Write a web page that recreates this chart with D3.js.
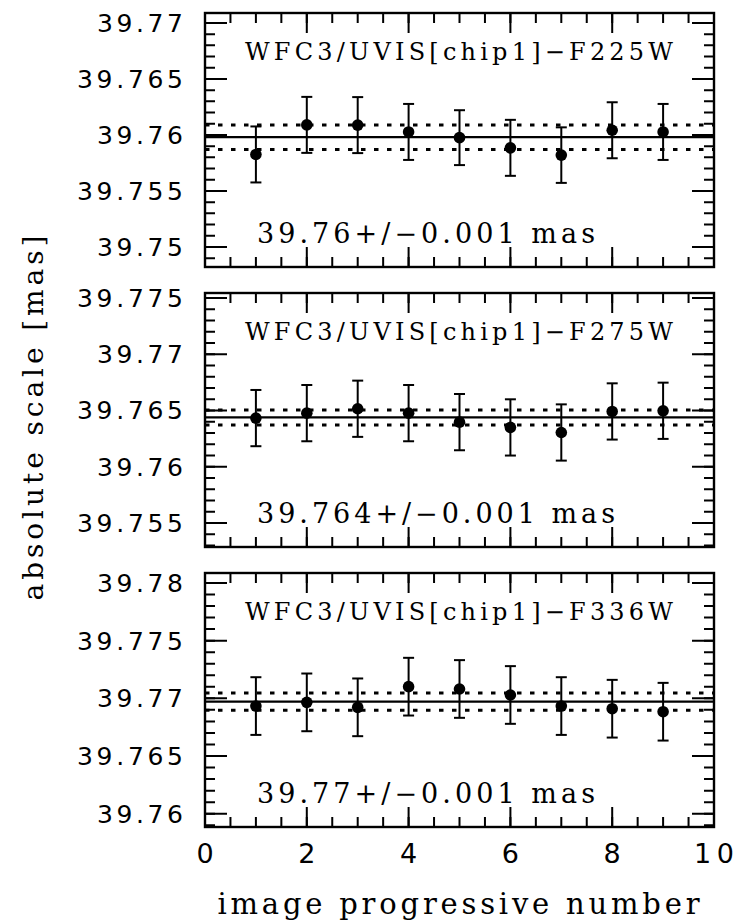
<!DOCTYPE html>
<html>
<head>
<meta charset="utf-8">
<script src="https://cdn.jsdelivr.net/npm/d3@7"></script>
<style>
  body { margin: 0; background: #fff; }
  svg { display: block; }
</style>
</head>
<body>
<script>
// image index on the x axis
const imageNumbers = [1, 2, 3, 4, 5, 6, 7, 8, 9];

// F225W
const f225wScale = [39.75826, 39.76090, 39.76088, 39.76027, 39.75976, 39.75885, 39.75820, 39.76042, 39.76027];
const f225wErr   = [0.0025, 0.0025, 0.0025, 0.0025, 0.00245, 0.0025, 0.00248, 0.0025, 0.0025];
// F275W
const f275wScale = [39.76432, 39.76476, 39.76515, 39.76476, 39.76396, 39.76349, 39.76304, 39.76491, 39.76497];
const f275wErr   = [0.0025, 0.0025, 0.0025, 0.0025, 0.0025, 0.0025, 0.0025, 0.0025, 0.0025];
// F336W
const f336wScale = [39.76933, 39.76965, 39.76922, 39.77101, 39.77081, 39.77029, 39.76933, 39.76910, 39.76884];
const f336wErr   = [0.0025, 0.0025, 0.0025, 0.0025, 0.0025, 0.0025, 0.0025, 0.0025, 0.0025];

const meanLines  = [39.7598, 39.76438, 39.76971];
const sigmaLines = [0.0011, 0.00067, 0.00075];

const panelTitles = ["WFC3/UVIS[chip1]\u2212F225W", "WFC3/UVIS[chip1]\u2212F275W", "WFC3/UVIS[chip1]\u2212F336W"];
const panelNotes  = ["39.76+/\u22120.001 mas", "39.764+/\u22120.001 mas", "39.77+/\u22120.001 mas"];

const yDomains = [[39.74821, 39.77089], [39.75286, 39.77544], [39.75885, 39.78086]];
const yTickLabels = [
  [39.75, 39.755, 39.76, 39.765, 39.77],
  [39.755, 39.76, 39.765, 39.77, 39.775],
  [39.76, 39.765, 39.77, 39.775, 39.78]
];
const xTickLabels = [0, 2, 4, 6, 8, 10];

const width = 735, height = 924;
const left = 205, right = 714;
const panelTop = [13, 293, 573], panelH = 254;

const svg = d3.select("body").append("svg")
    .attr("width", width)
    .attr("height", height);

const x = d3.scaleLinear().domain([0, 10]).range([left, right]);

const series = [
  {vals: f225wScale, errs: f225wErr},
  {vals: f275wScale, errs: f275wErr},
  {vals: f336wScale, errs: f336wErr}
];

// ticks on all four sides, pointing inwards (one path per set)
function yTicks(g, y, vals, len) {
  const d = vals.map(function(v) {
    const yy = y(v);
    return "M" + left + "," + yy + "H" + (left + len) + "M" + right + "," + yy + "H" + (right - len);
  }).join("");
  g.append("path").attr("d", d)
    .attr("fill", "none").attr("stroke", "#000").attr("stroke-width", 2);
}
function xTicks(g, top, bottom, vals, len) {
  const d = vals.map(function(v) {
    const xx = x(v);
    return "M" + xx + "," + top + "V" + (top + len) + "M" + xx + "," + bottom + "V" + (bottom - len);
  }).join("");
  g.append("path").attr("d", d)
    .attr("fill", "none").attr("stroke", "#000").attr("stroke-width", 2);
}

series.forEach(function(s, p) {
  const top = panelTop[p], bottom = top + panelH;
  const y = d3.scaleLinear().domain(yDomains[p]).range([bottom, top]);
  const g = svg.append("g");

  const yMinor = d3.range(Math.ceil(yDomains[p][0] * 1000 - 1e-6), Math.floor(yDomains[p][1] * 1000 + 1e-6) + 1)
      .map(function(d) { return d / 1000; });
  const yMajor = yTickLabels[p];
  const xMinor = d3.range(0, 10.01, 0.5);

  // y tick labels
  g.selectAll(".ylab")
    .data(yMajor)
    .enter()
    .append("text")
    .attr("class", "ylab")
    .attr("x", 183)
    .attr("y", function(d) { return y(d); })
    .attr("dy", "0.36em")
    .attr("text-anchor", "end")
    .attr("textLength", function(d) {
      const t = String(+d.toFixed(3));
      return (t.length - 1) * 20 + 6;
    })
    .attr("lengthAdjust", "spacing")
    .style("font-family", "DejaVu Sans")
    .style("font-size", "25px")
    .text(function(d) { return String(+d.toFixed(3)); });

  // mean and +/- sigma lines
  g.append("line")
    .attr("x1", left).attr("x2", right)
    .attr("y1", y(meanLines[p])).attr("y2", y(meanLines[p]))
    .attr("stroke", "#000").attr("stroke-width", 2.2);
  [-1, 1].forEach(function(k) {
    const v = meanLines[p] + k * sigmaLines[p];
    g.append("line")
      .attr("x1", left).attr("x2", right)
      .attr("y1", y(v)).attr("y2", y(v))
      .attr("stroke", "#000").attr("stroke-width", 3)
      .attr("stroke-dasharray", "4.5,8.5");
  });

  // error bars
  const pts = imageNumbers.map(function(n, i) { return {n: n, v: s.vals[i], e: s.errs[i]}; });
  const eb = g.selectAll(".eb").data(pts).enter().append("g").attr("class", "eb");
  eb.append("line")
    .attr("x1", function(d) { return x(d.n); })
    .attr("x2", function(d) { return x(d.n); })
    .attr("y1", function(d) { return y(d.v - d.e); })
    .attr("y2", function(d) { return y(d.v + d.e); })
    .attr("stroke", "#000").attr("stroke-width", 2);
  [-1, 1].forEach(function(k) {
    eb.append("line")
      .attr("x1", function(d) { return x(d.n) - 5.5; })
      .attr("x2", function(d) { return x(d.n) + 5.5; })
      .attr("y1", function(d) { return y(d.v + k * d.e); })
      .attr("y2", function(d) { return y(d.v + k * d.e); })
      .attr("stroke", "#000").attr("stroke-width", 2);
  });
  eb.append("circle")
    .attr("cx", function(d) { return x(d.n); })
    .attr("cy", function(d) { return y(d.v); })
    .attr("r", 5.8)
    .attr("fill", "#000");

  // frame
  g.append("rect")
    .attr("x", left).attr("y", top)
    .attr("width", right - left).attr("height", panelH)
    .attr("fill", "none").attr("stroke", "#000").attr("stroke-width", 2.4);

  yTicks(g, y, yMinor, 10);
  yTicks(g, y, yMajor, 22);
  xTicks(g, top, bottom, xMinor, 10);
  xTicks(g, top, bottom, xTickLabels, 20);

  // texts
  g.append("text")
    .attr("x", 245).attr("y", top + 47)
    .attr("textLength", 428).attr("lengthAdjust", "spacing")
    .style("font-family", "DejaVu Serif")
    .style("font-size", "24px")
    .text(panelTitles[p]);
  g.append("text")
    .attr("x", 257).attr("y", top + 230)
    .attr("textLength", p === 1 ? 358 : 338).attr("lengthAdjust", "spacing")
    .style("font-family", "DejaVu Serif")
    .style("font-size", "27px")
    .text(panelNotes[p]);

  if (p === 2) {
    g.selectAll(".xlab")
      .data(xTickLabels)
      .enter()
      .append("text")
      .attr("class", "xlab")
      .attr("x", function(d) { return x(d); })
      .attr("y", bottom + 36)
      .attr("text-anchor", "middle")
      .attr("textLength", function(d) { return String(d).length * 20; })
      .attr("lengthAdjust", "spacing")
      .style("font-family", "DejaVu Sans")
      .style("font-size", "27px")
      .text(function(d) { return d; });
  }
});

svg.append("text")
  .attr("x", (left + right) / 2 - 1)
  .attr("y", 914)
  .attr("text-anchor", "middle")
  .attr("textLength", 482).attr("lengthAdjust", "spacing")
  .style("font-family", "DejaVu Serif")
  .style("font-size", "29px")
  .text("image progressive number");

svg.append("text")
  .attr("transform", "translate(43,418) rotate(-90)")
  .attr("text-anchor", "middle")
  .attr("textLength", 365).attr("lengthAdjust", "spacing")
  .style("font-family", "DejaVu Serif")
  .style("font-size", "28px")
  .text("absolute scale [mas]");
</script>
</body>
</html>
